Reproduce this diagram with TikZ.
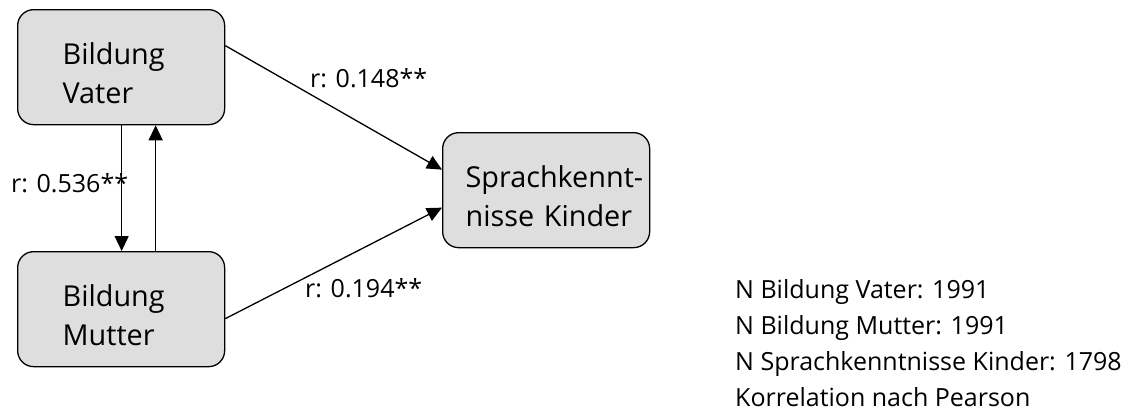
\documentclass[tikz,border=0pt]{standalone}
\usepackage{fontspec}
\setmainfont{Open Sans}
\usetikzlibrary{arrows.meta}
\definecolor{boxgray}{RGB}{222,222,222}
\tikzset{
  box/.style={draw=black, line width=1.3pt, fill=boxgray, rounded corners=16pt,
    minimum width=207pt, minimum height=115pt, align=left, anchor=north west,
    font=\fontsize{28.8}{36}\selectfont},
  conn/.style={line width=1.3pt, -{Triangle[length=15pt,width=14pt]}},
  lbl/.style={anchor=base west, inner sep=0pt, font=\fontsize{25}{29.7}\selectfont},
}
\begin{document}
\begin{tikzpicture}[x=1pt,y=-1pt]
\useasboundingbox (0,0) rectangle (1124,418);
\node[box, text width=117pt, inner xsep=45pt] (bv) at (17,9) {\rule{0pt}{34pt}Bildung\\[3pt]Vater};
\node[box, text width=117pt, inner xsep=45pt] (bm) at (17,251) {\rule{0pt}{34pt}Bildung\\[3pt]Mutter};
\node[box, text width=161pt, inner xsep=23pt] (sk) at (442,132) {\rule{0pt}{34pt}\mbox{Sprachkennt-}\\[3pt]\mbox{nisse Kinder}};
\draw[conn] ([xshift=0.5pt]bv.south) -- ([xshift=0.5pt]bm.north);
\draw[conn] ([xshift=34.5pt]bm.north) -- ([xshift=34.5pt]bv.south);
\draw[conn] ([yshift=21.5pt]bv.east) -- ([yshift=20.5pt]sk.west);
\draw[conn] ([yshift=-9.5pt]bm.east) -- ([yshift=-17.5pt]sk.west);
\node[lbl] (l1) at (310,87) {r: 0.148**};
\node[lbl] (l2) at (11,192) {r: 0.536**};
\node[lbl] (l3) at (305,297) {r: 0.194**};
\node[lbl, align=left, anchor=north west] (info) at (735,279)
  {N Bildung Vater: 1991\\[6.5pt]N Bildung Mutter: 1991\\[6.5pt]N Sprachkenntnisse Kinder: 1798\\[6.5pt]Korrelation nach Pearson};
\end{tikzpicture}
\end{document}
